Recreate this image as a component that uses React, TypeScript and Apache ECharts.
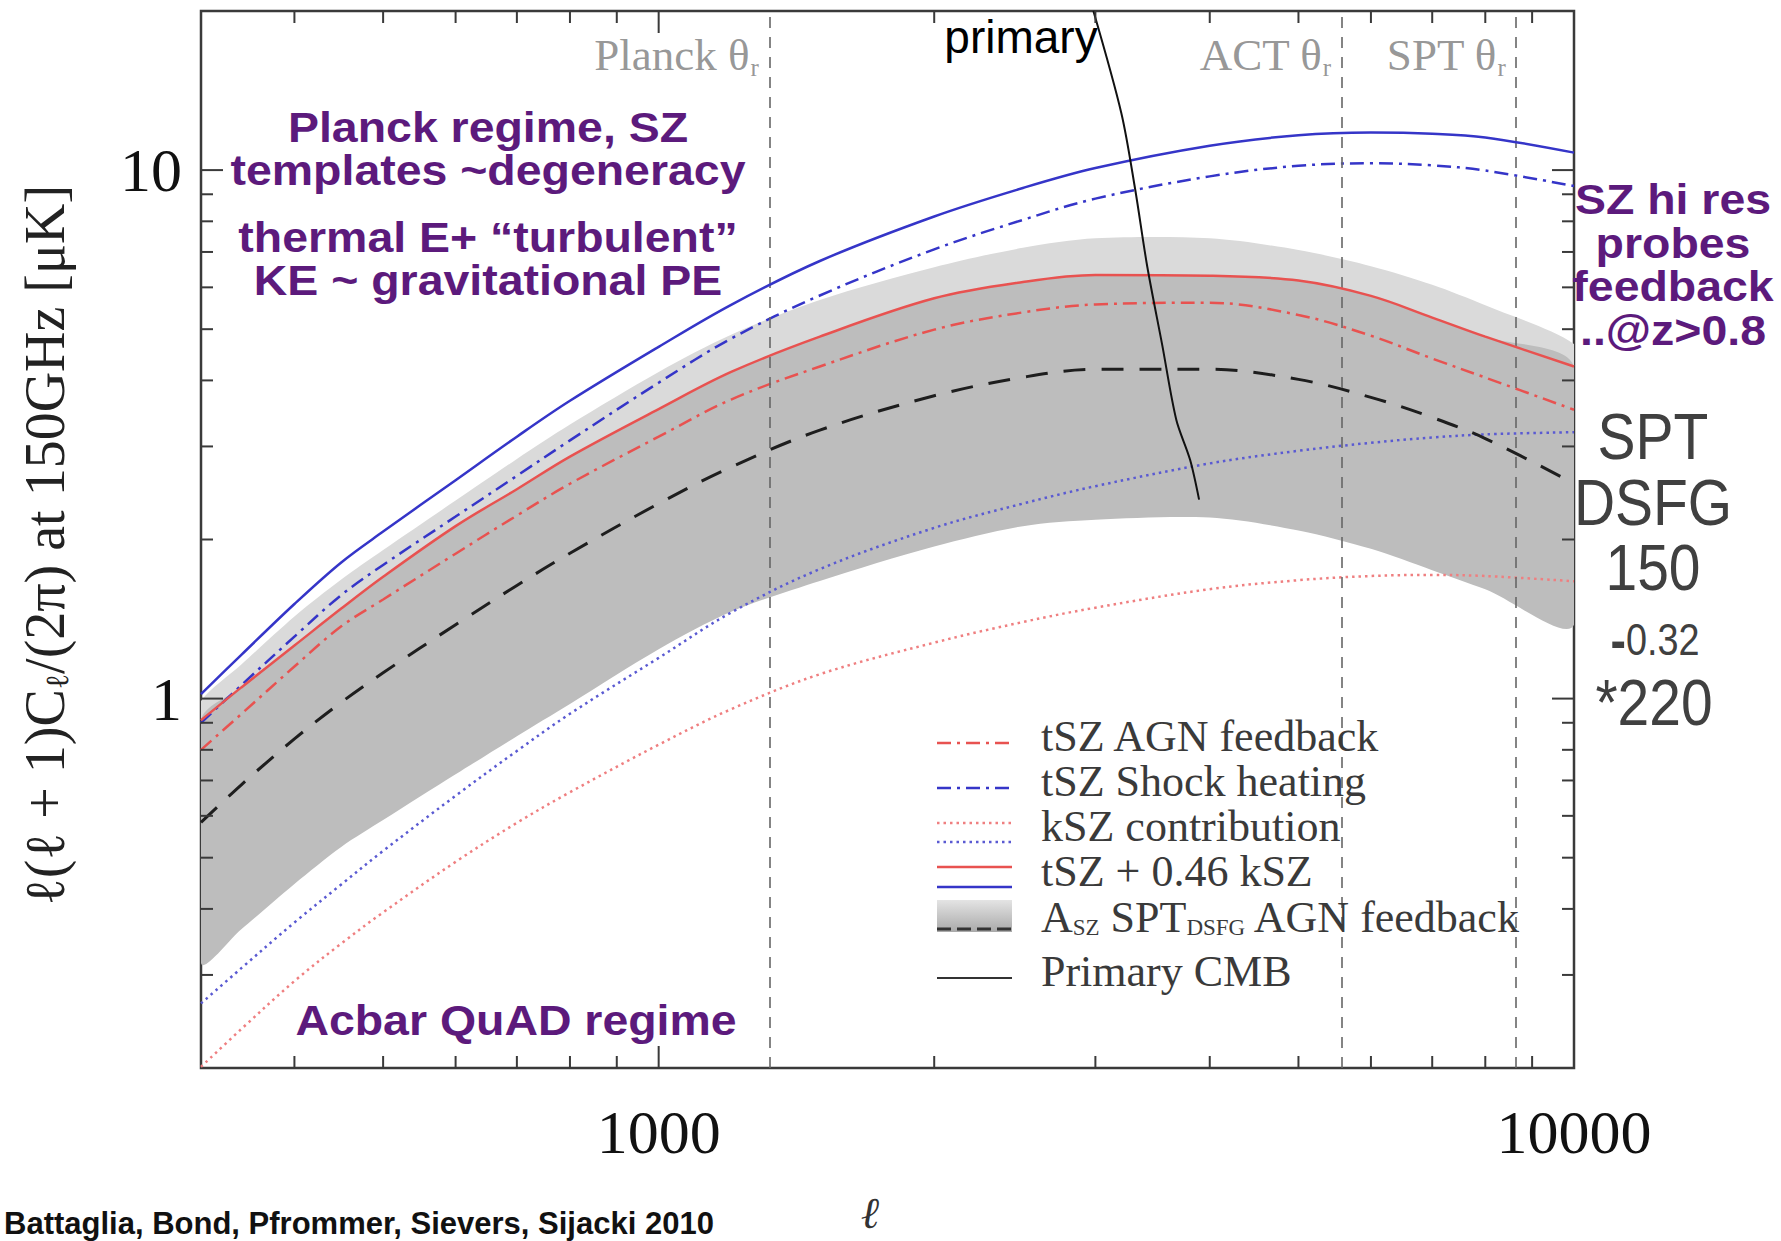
import React, { useEffect, useRef } from "react";
import * as echarts from "echarts";

// multipole samples
const ell = [316.23, 350, 400, 450, 500, 600, 700, 800, 1000, 1200, 1500, 2000, 2500, 3000, 4000, 5000, 6000, 7000, 8000, 10000];

// tSZ + 0.46 kSZ (shock heating, blue solid)
const totShock = [1.02, 1.21, 1.51, 1.81, 2.07, 2.59, 3.13, 3.66, 4.63, 5.56, 6.73, 8.17, 9.25, 10.09, 11.12, 11.64, 11.78, 11.72, 11.53, 10.79];
// tSZ shock heating (blue dash-dot)
const tszShock = [0.9, 1.06, 1.31, 1.57, 1.79, 2.21, 2.64, 3.08, 3.96, 4.8, 5.79, 7.08, 8.05, 8.83, 9.73, 10.19, 10.3, 10.21, 9.98, 9.33];
// tSZ + 0.46 kSZ (AGN feedback, red solid)
const totAgn = [0.91, 1.05, 1.26, 1.48, 1.7, 2.12, 2.49, 2.87, 3.53, 4.15, 4.84, 5.72, 6.14, 6.33, 6.31, 6.18, 5.78, 5.26, 4.84, 4.25];
// tSZ AGN feedback (red dash-dot)
const tszAgn = [0.8, 0.935, 1.15, 1.37, 1.54, 1.88, 2.22, 2.55, 3.13, 3.68, 4.25, 4.99, 5.38, 5.57, 5.61, 5.32, 4.86, 4.4, 4.05, 3.52];
// A_SZ SPT_DSFG AGN feedback (black dashed)
const asz = [0.583, 0.687, 0.839, 0.984, 1.119, 1.38, 1.637, 1.884, 2.339, 2.742, 3.221, 3.741, 4.055, 4.198, 4.198, 4.018, 3.715, 3.404, 3.105, 2.553];
// kSZ shock heating (blue dotted)
const kszShock = [0.265, 0.309, 0.377, 0.445, 0.515, 0.655, 0.796, 0.936, 1.194, 1.455, 1.758, 2.104, 2.339, 2.523, 2.786, 2.944, 3.048, 3.119, 3.162, 3.192];
// kSZ AGN feedback (red dotted)
const kszAgn = [0.201, 0.237, 0.292, 0.344, 0.394, 0.491, 0.582, 0.665, 0.818, 0.955, 1.112, 1.276, 1.396, 1.486, 1.611, 1.675, 1.706, 1.714, 1.706, 1.667];
// A_SZ band: upper edge, light/dark boundary, lower edge
const bandUpper = [0.99, 1.16, 1.43, 1.68, 1.91, 2.37, 2.84, 3.3, 4.15, 4.88, 5.68, 6.55, 7.13, 7.43, 7.43, 7.06, 6.58, 6.07, 5.55, 4.69];
const bandMid = [0.91, 1.05, 1.26, 1.48, 1.7, 2.12, 2.49, 2.87, 3.53, 4.15, 4.84, 5.72, 6.14, 6.33, 6.31, 6.18, 5.78, 5.26, 4.84, 4.25];
const bandLower = [0.316, 0.366, 0.446, 0.524, 0.589, 0.719, 0.849, 0.977, 1.24, 1.46, 1.67, 1.94, 2.12, 2.18, 2.2, 2.08, 1.92, 1.75, 1.61, 1.38];

// primary CMB (steep line)
const primaryEll = [2985, 3203, 3316, 3418, 3549, 3677, 3807, 3894];
const primaryVal = [20.0, 12.8, 9.19, 6.57, 4.67, 3.37, 2.83, 2.38];

// experiment beam scales
const thetaEll = [1321, 5573, 8647];
const thetaName = ["Planck θ", "ACT θ", "SPT θ"];
const thetaLabelY = 16.5;

// axes
const X_MIN = 316.23;
const X_MAX = 10000;
const Y_MIN = 0.2;
const Y_MAX = 20;
const xTickVals = [400, 500, 600, 700, 800, 900, 1000, 2000, 3000, 4000, 5000, 6000, 7000, 8000, 9000, 10000];
const xMajor = [1000, 10000];
const yTickVals = [0.3, 0.4, 0.5, 0.6, 0.7, 0.8, 0.9, 1, 2, 3, 4, 5, 6, 7, 8, 9, 10];
const yMajor = [1, 10];

const RED = "#e85250";
const BLUE = "#3535c8";
const RED_DOT = "#ef7f80";
const BLUE_DOT = "#5a5ad2";
const PURPLE = "#5c1a7c";
const SERIF = '"Liberation Serif", "DejaVu Serif", serif';
const SANS = '"Liberation Sans", Arial, sans-serif';

const DASHDOT = [14, 6, 3, 6];
const DOTTED = [2.5, 4];

function pairs(vals: number[]) {
  return ell.map((l, i) => [l, vals[i]]);
}

function lineSeries(name: string, vals: number[], color: string, type: any, width: number, z: number) {
  return {
    name,
    type: "line",
    data: pairs(vals),
    symbol: "none",
    smooth: 0.35,
    silent: true,
    z,
    lineStyle: { color, width, type },
  };
}

function powLabel(v: number) {
  const e = Math.log10(v);
  return Math.abs(e - Math.round(e)) < 1e-6 ? String(Math.round(v)) : "";
}

function buildOption() {
  const series: any[] = [];

  // grey A_SZ band
  series.push({
    type: "custom",
    silent: true,
    clip: true,
    z: 1,
    data: [[X_MIN, 1]],
    renderItem: (_p: any, api: any) => {
      const up = ell.map((l, i) => api.coord([l, bandUpper[i]]));
      const mid = ell.map((l, i) => api.coord([l, bandMid[i]]));
      const lo = ell.map((l, i) => api.coord([l, bandLower[i]]));
      return {
        type: "group",
        children: [
          { type: "polygon", shape: { points: up.concat(mid.slice().reverse()), smooth: 0.3 }, style: { fill: "#dadada" } },
          { type: "polygon", shape: { points: mid.concat(lo.slice().reverse()), smooth: 0.3 }, style: { fill: "#bdbdbd" } },
        ],
      };
    },
  });

  series.push(lineSeries("kSZ AGN", kszAgn, RED_DOT, DOTTED, 2.5, 3));
  series.push(lineSeries("kSZ shock", kszShock, BLUE_DOT, DOTTED, 2.5, 3));
  series.push(lineSeries("A_SZ SPT_DSFG AGN feedback", asz, "#1e1e1e", [22, 16], 3, 4));
  series.push(lineSeries("tSZ AGN feedback", tszAgn, RED, DASHDOT, 2.5, 4));
  series.push(lineSeries("tSZ Shock heating", tszShock, BLUE, DASHDOT, 2.5, 4));
  series.push(lineSeries("tSZ + 0.46 kSZ AGN", totAgn, RED, "solid", 2.5, 5));
  const totS = lineSeries("tSZ + 0.46 kSZ shock", totShock, BLUE, "solid", 2.5, 5) as any;
  totS.markLine = {
    silent: true,
    symbol: ["none", "none"],
    label: { show: false },
    lineStyle: { color: "#666", width: 1.6, type: [11, 9] },
    data: thetaEll.map((l) => ({ xAxis: l })),
  };
  series.push(totS);

  series.push({
    name: "Primary CMB",
    type: "line",
    data: primaryEll.map((l, i) => [l, primaryVal[i]]),
    symbol: "none",
    smooth: 0.3,
    silent: true,
    z: 6,
    lineStyle: { color: "#111", width: 2 },
  });

  // beam labels
  series.push({
    type: "scatter",
    silent: true,
    symbolSize: 1,
    itemStyle: { color: "rgba(0,0,0,0)" },
    z: 6,
    data: thetaEll.map((l, i) => ({ value: [l, thetaLabelY], name: thetaName[i] })),
    label: {
      show: true,
      position: "left",
      distance: 10,
      formatter: (p: any) => "{a|" + p.name + "}{s|r}",
      rich: {
        a: { fontFamily: SERIF, fontSize: 45, color: "#7c7c7c" },
        s: { fontFamily: SERIF, fontSize: 25, color: "#7c7c7c", padding: [24, 0, 0, 1] },
      },
    },
  });

  // axis ticks (inward, all four sides)
  series.push({
    type: "custom",
    silent: true,
    clip: false,
    z: 8,
    data: xTickVals.map((v) => [v, 1]),
    renderItem: (_p: any, api: any) => {
      const v = api.value(0);
      const len = xMajor.indexOf(v) >= 0 ? 22 : 12;
      const b = api.coord([v, Y_MIN]);
      const t = api.coord([v, Y_MAX]);
      const st = { stroke: "#3a3a3a", lineWidth: 2 };
      return {
        type: "group",
        children: [
          { type: "line", shape: { x1: b[0], y1: b[1], x2: b[0], y2: b[1] - len }, style: st },
          { type: "line", shape: { x1: t[0], y1: t[1], x2: t[0], y2: t[1] + len }, style: st },
        ],
      };
    },
  });
  series.push({
    type: "custom",
    silent: true,
    clip: false,
    z: 8,
    data: yTickVals.map((v) => [X_MIN, v]),
    renderItem: (_p: any, api: any) => {
      const v = api.value(1);
      const len = yMajor.indexOf(v) >= 0 ? 22 : 12;
      const l = api.coord([X_MIN, v]);
      const r = api.coord([X_MAX, v]);
      const st = { stroke: "#3a3a3a", lineWidth: 2 };
      return {
        type: "group",
        children: [
          { type: "line", shape: { x1: l[0], y1: l[1], x2: l[0] + len, y2: l[1] }, style: st },
          { type: "line", shape: { x1: r[0], y1: r[1], x2: r[0] - len, y2: r[1] }, style: st },
        ],
      };
    },
  });

  const purple = (text: string, x: number, y: number) => ({
    type: "text",
    x,
    y,
    scaleX: 1.08,
    z: 20,
    style: { text, font: `bold 43px ${SANS}`, fill: PURPLE, textAlign: "center", textVerticalAlign: "middle", lineHeight: 43.5 },
  });
  const grey = (text: string, x: number, y: number, size: number) => ({
    type: "text",
    x,
    y,
    scaleX: 0.89,
    z: 20,
    style: { text, font: `${size}px ${SANS}`, fill: "#404040", textAlign: "center", textVerticalAlign: "middle" },
  });
  const legText = (text: string, y: number) => ({
    type: "text",
    x: 1041,
    y,
    z: 20,
    style: { text, font: `44px ${SERIF}`, fill: "#3a3a3a", textAlign: "left", textVerticalAlign: "middle" },
  });
  const legLine = (y: number, color: string, dash: any, w: number) => ({
    type: "line",
    z: 20,
    shape: { x1: 937, y1: y, x2: 1012, y2: y },
    style: { stroke: color, lineWidth: w, lineDash: dash },
  });

  const graphic: any[] = [
    // axis titles
    {
      type: "text",
      x: 45,
      y: 545,
      rotation: Math.PI / 2,
      z: 20,
      style: {
        text: "{n|ℓ(ℓ + 1)C}{s|ℓ}{n|/(2π) at 150GHz [μK]}",
        textAlign: "center",
        textVerticalAlign: "middle",
        rich: {
          n: { fontFamily: SERIF, fontSize: 56, fill: "#222" },
          s: { fontFamily: SERIF, fontSize: 32, fill: "#222", padding: [24, 0, 0, 0] },
        },
      },
    },
    {
      type: "text",
      x: 870,
      y: 1213,
      z: 20,
      style: { text: "ℓ", font: `italic 44px ${SERIF}`, fill: "#333", textAlign: "center", textVerticalAlign: "middle" },
    },
    // annotations
    purple("Planck regime, SZ\ntemplates ~degeneracy", 488, 148),
    purple("thermal E+ “turbulent”\nKE ~ gravitational PE", 488, 258),
    purple("Acbar QuAD regime", 516, 1020),
    purple("SZ hi res\nprobes\nfeedback\n..@z>0.8", 1673, 264),
    {
      type: "text",
      x: 1021,
      y: 37,
      z: 20,
      style: { text: "primary", font: `46px ${SANS}`, fill: "#000", textAlign: "center", textVerticalAlign: "middle" },
    },
    grey("SPT", 1653, 437, 64),
    grey("DSFG", 1653, 503, 64),
    grey("150", 1653, 568, 64),
    {
      type: "text",
      x: 1655,
      y: 640,
      scaleX: 0.86,
      z: 20,
      style: {
        text: "{m|-}{d|0.32}",
        textAlign: "center",
        textVerticalAlign: "middle",
        rich: {
          m: { fontFamily: SANS, fontSize: 54, fontWeight: "bold", fill: "#404040" },
          d: { fontFamily: SANS, fontSize: 44, fill: "#404040" },
        },
      },
    },
    grey("*220", 1654, 703, 64),
    // citation
    {
      type: "text",
      x: 4,
      y: 1239,
      z: 20,
      style: { text: "Battaglia, Bond, Pfrommer, Sievers, Sijacki 2010", font: `bold 31px ${SANS}`, fill: "#111", textAlign: "left", textVerticalAlign: "bottom" },
    },
    // legend
    legLine(743, RED, DASHDOT, 2.5),
    legText("tSZ AGN feedback", 736),
    legLine(788, BLUE, DASHDOT, 2.5),
    legText("tSZ Shock heating", 781),
    legLine(823, RED_DOT, DOTTED, 2.5),
    legLine(842, BLUE_DOT, DOTTED, 2.5),
    legText("kSZ contribution", 826),
    legLine(867, RED, null, 2.5),
    legLine(887, BLUE, null, 2.5),
    legText("tSZ + 0.46 kSZ", 871),
    {
      type: "rect",
      z: 20,
      shape: { x: 937, y: 900, width: 75, height: 32 },
      style: {
        fill: new echarts.graphic.LinearGradient(0, 0, 0, 1, [
          { offset: 0, color: "#e4e4e4" },
          { offset: 1, color: "#a9a9a9" },
        ]),
      },
    },
    legLine(929, "#333", [14, 6], 3),
    {
      type: "text",
      x: 1041,
      y: 917,
      z: 20,
      style: {
        text: "{n|A}{s|SZ}{n| SPT}{s|DSFG}{n| AGN feedback}",
        textAlign: "left",
        textVerticalAlign: "middle",
        rich: {
          n: { fontFamily: SERIF, fontSize: 44, fill: "#3a3a3a" },
          s: { fontFamily: SERIF, fontSize: 23, fill: "#3a3a3a", padding: [20, 0, 0, 0] },
        },
      },
    },
    legLine(978, "#333", null, 2),
    legText("Primary CMB", 971),
  ];

  return {
    animation: false,
    backgroundColor: "#ffffff",
    grid: { left: 201, top: 11, right: 207, bottom: 173, show: true, borderColor: "#3a3a3a", borderWidth: 2.5, backgroundColor: "transparent" },
    xAxis: {
      type: "log",
      logBase: 10,
      min: X_MIN,
      max: X_MAX,
      axisLine: { show: false },
      axisTick: { show: false },
      splitLine: { show: false },
      axisLabel: { formatter: powLabel, fontFamily: SERIF, fontSize: 62, color: "#111", margin: 33 },
    },
    yAxis: {
      type: "log",
      logBase: 10,
      min: Y_MIN,
      max: Y_MAX,
      axisLine: { show: false },
      axisTick: { show: false },
      splitLine: { show: false },
      axisLabel: { formatter: powLabel, fontFamily: SERIF, fontSize: 62, color: "#111", margin: 19 },
    },
    series,
    graphic,
  };
}

export default function App() {
  const ref = useRef<HTMLDivElement>(null);
  useEffect(() => {
    document.body.style.margin = "0";
    const chart = echarts.init(ref.current as HTMLDivElement, null, { renderer: "svg" });
    chart.setOption(buildOption() as any);
    return () => chart.dispose();
  }, []);
  return <div ref={ref} style={{ position: "absolute", left: 0, top: 0, width: 1781, height: 1241, background: "#fff" }} />;
}
